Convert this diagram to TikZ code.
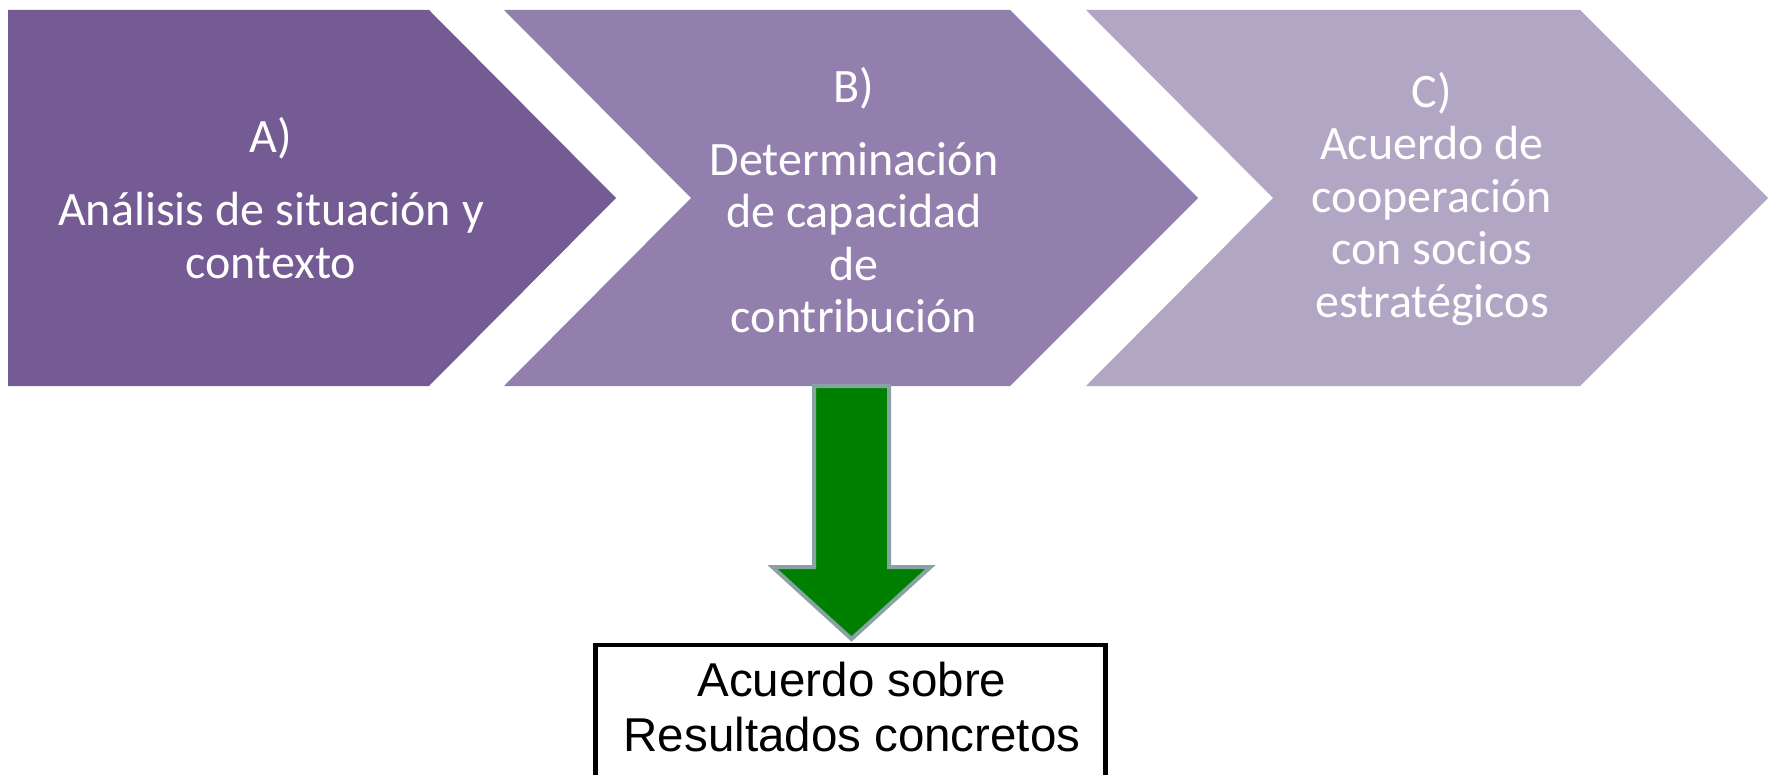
\documentclass[tikz,border=0pt]{standalone}
\usepackage{fontspec}
\setmainfont{Liberation Sans}
\newfontfamily\calibri{Carlito}
\usetikzlibrary{calc}
\definecolor{pa}{RGB}{116,91,148}
\definecolor{pb}{RGB}{146,127,173}
\definecolor{pc}{RGB}{177,167,196}
\definecolor{arrowgreen}{RGB}{0,128,0}
\definecolor{arrowedge}{RGB}{135,163,163}
\tikzset{
  lbl/.style={text=white, font=\calibri\fontsize{48}{52.5}\selectfont, align=center, inner sep=0pt},
  resbox/.style={draw=black, line width=4.5pt, inner sep=0pt, minimum width=510pt, minimum height=200pt},
  restxt/.style={text=black, font=\fontsize{47.5}{55}\selectfont, align=center, inner sep=0pt},
  greenarrow/.style={fill=arrowgreen, draw=arrowedge, line width=4pt, line join=miter}
}
\begin{document}
\begin{tikzpicture}[x=1pt,y=-1pt]
\useasboundingbox (0,0) rectangle (1769,775);
\clip (0,0) rectangle (1769,775);
\fill[white] (0,0) rectangle (1769,775);
% chevrons
\fill[pa] (8,10) -- (429,10) -- (616,198) -- (429,386) -- (8,386) -- cycle;
\fill[pb] (504,10) -- (1010,10) -- (1198,198) -- (1010,386) -- (504,386) -- (691,198) -- cycle;
\fill[pc] (1086,10) -- (1580,10) -- (1768,198) -- (1580,386) -- (1086,386) -- (1273,198) -- cycle;
% labels
\node[lbl] (la) at (271,198) {A)\\[20.5pt]Análisis de situación y\\contexto};
\node[lbl] (lb) at (854,200) {B)\\[20.5pt]Determinación\\de capacidad\\de\\contribución};
\node[lbl] (lc) at (1432,199) {C)\\Acuerdo de\\cooperación\\con socios\\estratégicos};
% result box
\node[resbox, anchor=north] (res) at (850.5,642.5) {};
\node[restxt] (rt) at (852,707.5) {Acuerdo sobre\\Resultados concretos};
% green arrow from B to result box
\coordinate (bb) at (851.5,386);
\coordinate (tip) at ($(bb |- res.north)+(0,-3.5)$);
\draw[greenarrow] ($(bb)+(-37.5,0)$) -- ($(bb)+(-37.5,181)$) -- ($(bb)+(-79,181)$) -- (tip)
  -- ($(bb)+(79,181)$) -- ($(bb)+(37.5,181)$) -- ($(bb)+(37.5,0)$) -- cycle;
\end{tikzpicture}
\end{document}
